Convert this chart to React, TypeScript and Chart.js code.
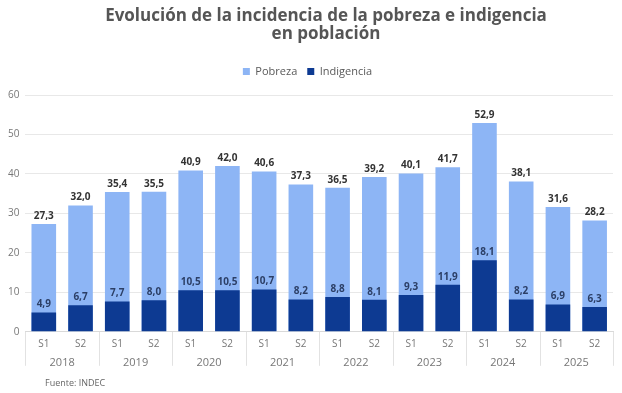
import React, { useEffect, useRef } from "react";
import { Chart, registerables } from "chart.js";

Chart.register(...registerables);

const PERIODS = ["S1", "S2", "S1", "S2", "S1", "S2", "S1", "S2", "S1", "S2", "S1", "S2", "S1", "S2", "S1", "S2"];
const YEARS = ["2018", "2019", "2020", "2021", "2022", "2023", "2024", "2025"];
const POBREZA = [27.3, 32.0, 35.4, 35.5, 40.9, 42.0, 40.6, 37.3, 36.5, 39.2, 40.1, 41.7, 52.9, 38.1, 31.6, 28.2];
const INDIGENCIA = [4.9, 6.7, 7.7, 8.0, 10.5, 10.5, 10.7, 8.2, 8.8, 8.1, 9.3, 11.9, 18.1, 8.2, 6.9, 6.3];
const TITLE = ["Evolución de la incidencia de la pobreza e indigencia", "en población"];
const SOURCE = "Fuente: INDEC";

const FONT = '"Open Sans", "DejaVu Sans", sans-serif';
const LIGHT = "#8db5f5";
const DARK = "#0d3a92";

const fmt = (v: number) => v.toFixed(1).replace(".", ",");

const decorPlugin = {
  id: "decor",
  beforeLayout(chart: any) {
    const lg = chart.legend;
    if (lg && !lg.__patched) {
      const orig = lg.fit;
      lg.fit = function () {
        orig.call(this);
        this.height += 8;
      };
      lg.__patched = true;
    }
  },
  afterDatasetsDraw(chart: any) {
    const ctx = chart.ctx;
    ctx.save();
    ctx.textAlign = "center";
    ctx.textBaseline = "bottom";
    chart.data.datasets.forEach((ds: any, di: number) => {
      const meta = chart.getDatasetMeta(di);
      const isPob = ds.label === "Pobreza";
      ctx.font = `bold 10px ${FONT}`;
      ctx.fillStyle = isPob ? "#333333" : "#2c3f66";
      meta.data.forEach((bar: any, i: number) => {
        ctx.fillText(fmt(ds.data[i]), bar.x, bar.y - 3);
      });
    });
    ctx.restore();
  },
  afterDraw(chart: any) {
    const ctx = chart.ctx;
    const xs = chart.scales.x;
    const area = chart.chartArea;
    const n = PERIODS.length;
    const cw = (xs.right - xs.left) / n;
    ctx.save();
    ctx.strokeStyle = "#e2e2e2";
    ctx.lineWidth = 1;
    for (let i = 0; i <= n; i += 2) {
      const x = Math.round(xs.left + cw * i) + 0.5;
      ctx.beginPath();
      ctx.moveTo(x, area.bottom);
      ctx.lineTo(x, area.bottom + 34);
      ctx.stroke();
    }
    ctx.fillStyle = "#555555";
    ctx.textAlign = "center";
    ctx.textBaseline = "middle";
    ctx.font = `bold 17px ${FONT}`;
    ctx.fillText(TITLE[0], 326, 16);
    ctx.fillText(TITLE[1], 326, 34);
    ctx.font = `9px ${FONT}`;
    ctx.fillStyle = "#666666";
    ctx.textAlign = "left";
    ctx.fillText(SOURCE, 45, 383);
    ctx.restore();
  },
};

export default function App() {
  const ref = useRef<HTMLCanvasElement>(null);
  useEffect(() => {
    document.body.style.margin = "0";
    const chart = new Chart(ref.current as HTMLCanvasElement, {
      type: "bar",
      data: {
        labels: PERIODS,
        datasets: [
          { label: "Indigencia", data: INDIGENCIA, backgroundColor: DARK, grouped: false, barPercentage: 0.67, categoryPercentage: 1 } as any,
          { label: "Pobreza", data: POBREZA, backgroundColor: LIGHT, grouped: false, barPercentage: 0.67, categoryPercentage: 1 } as any,
        ],
      },
      options: {
        responsive: false,
        animation: false,
        layout: { padding: { top: 56, left: 2, right: 9, bottom: 24 } },
        plugins: {
          legend: {
            reverse: true,
            labels: { boxWidth: 7, boxHeight: 7, font: { family: FONT, size: 11 }, color: "#595959", padding: 10 },
          },
          tooltip: { enabled: false },
          title: { display: false },
        },
        scales: {
          x: {
            grid: { display: false, drawTicks: false },
            border: { display: true, color: "#d9d9d9" },
            ticks: { color: "#777777", font: { family: FONT, size: 10 }, padding: 6, maxRotation: 0, autoSkip: false },
          },
          x2: {
            type: "category",
            labels: YEARS,
            position: "bottom",
            offset: true,
            weight: 1,
            grid: { display: false, drawTicks: false },
            border: { display: false },
            ticks: { color: "#777777", font: { family: FONT, size: 11 }, padding: 0, maxRotation: 0, autoSkip: false },
          },
          y: {
            min: 0,
            max: 60,
            ticks: { stepSize: 10, color: "#777777", font: { family: FONT, size: 10 }, padding: 6 },
            grid: { color: "#e8e8e8", drawTicks: false },
            border: { display: false },
          },
        } as any,
      },
      plugins: [decorPlugin],
    });
    return () => chart.destroy();
  }, []);
  return (
    <div style={{ width: 622, height: 393 }}>
      <canvas ref={ref} width={622} height={393} />
    </div>
  );
}
